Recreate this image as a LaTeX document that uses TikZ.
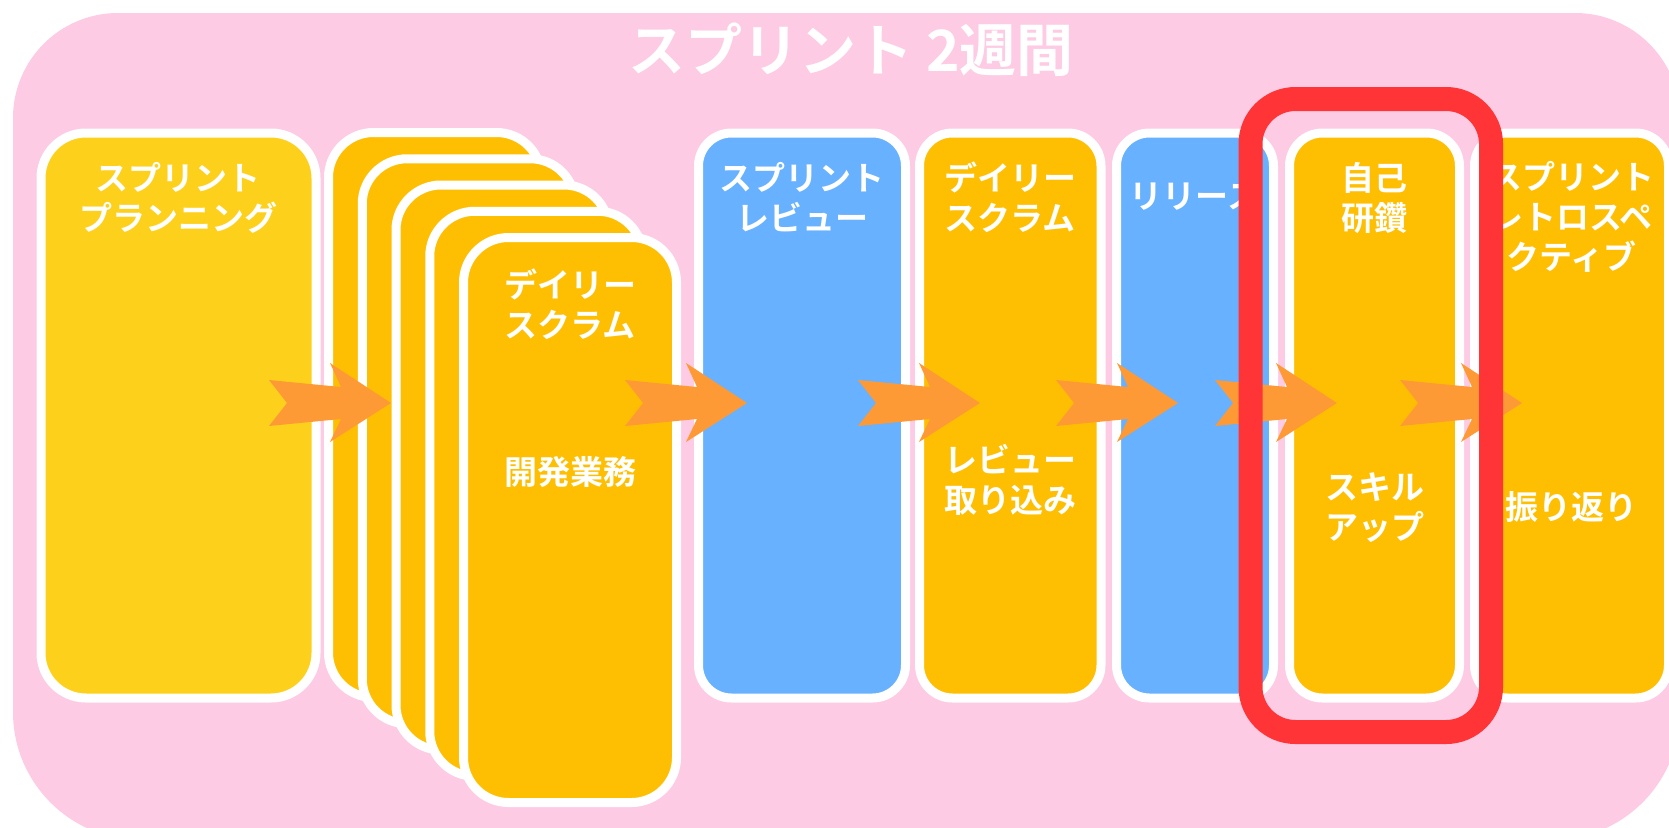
\documentclass[tikz,border=0pt]{standalone}
\usepackage{fontspec}
\newfontfamily\jpfont{Noto Sans CJK JP}[BoldFont={Noto Sans CJK JP Bold}]
\definecolor{bgpink}{HTML}{FDCBE4}
\definecolor{planyellow}{HTML}{FDD11B}
\definecolor{workorange}{HTML}{FEBF02}
\definecolor{revblue}{HTML}{67B1FE}
\definecolor{flow}{HTML}{FE9A35}
\definecolor{focusred}{HTML}{FE3436}
\begin{document}
\begin{tikzpicture}[x=1pt,y=-1pt,
  panel/.style={draw=white, line width=9pt, inner sep=0pt, outer sep=0pt, minimum height=565pt},
  widepanel/.style={panel, rounded corners=45pt},
  narrowpanel/.style={panel, rounded corners=33pt},
  lbl/.style={text=white, inner sep=0pt, align=center, font=\jpfont\bfseries\fontsize{33}{40}\selectfont},
  titlelbl/.style={text=white, inner sep=0pt, font=\jpfont\bfseries\fontsize{57}{60}\selectfont},
  focusbox/.style={draw=focusred, line width=24pt, rounded corners=45pt, inner sep=0pt, outer sep=0pt},
  pics/flowarrow/.style={code={\fill[flow] (0,-23) -- (72,-16) -- (61,-40) -- (122,0) -- (61,39) -- (72,16) -- (0,23) -- (18,0) -- cycle;}}
]
\useasboundingbox (0,0) rectangle (1669,827);
\fill[white] (0,0) rectangle (1669,827);
\clip (0,0) rectangle (1669,827);

% container (top corners and bottom corners have different radii)
\fill[bgpink, rounded corners=105pt] (13,13) rectangle (1680,600);
\fill[bgpink, rounded corners=128pt] (13,300) rectangle (1680,840);
\node[titlelbl] (title) at (851,50) {スプリント 2週間};

% panels
\node[widepanel, fill=planyellow, minimum width=275pt] (plan) at (178.5,415.5) {};
\node[widepanel, fill=workorange, minimum width=213pt] (card1) at (435,415) {};
\node[widepanel, fill=workorange, minimum width=213pt] (card2) at (468.75,441.25) {};
\node[widepanel, fill=workorange, minimum width=213pt] (card3) at (502.5,467.5) {};
\node[widepanel, fill=workorange, minimum width=213pt] (card4) at (536.25,493.75) {};
\node[widepanel, fill=workorange, minimum width=213pt] (card5) at (570,520) {};
\node[narrowpanel, fill=revblue, minimum width=207pt] (review) at (802,415.5) {};
\node[narrowpanel, fill=workorange, minimum width=181.5pt] (daily) at (1010.25,415.5) {};
\node[narrowpanel, fill=revblue, minimum width=157pt] (release) at (1195,415.5) {};
\node[narrowpanel, fill=workorange, minimum width=170pt] (study) at (1374.5,415.5) {};
\node[narrowpanel, fill=workorange, minimum width=194pt] (retro) at (1571.5,415.5) {};

% labels
\node[lbl] (planT) at (178,197.5) {スプリント\\プランニング};
\node[lbl] (card5T) at (570,304) {デイリー\\スクラム};
\node[lbl] (card5B) at (570,472) {開発業務};
\node[lbl] (reviewT) at (802,197.5) {スプリント\\レビュー};
\node[lbl] (dailyT) at (1010.25,197.5) {デイリー\\スクラム};
\node[lbl] (dailyB) at (1010.25,480) {レビュー\\取り込み};
\node[lbl] (releaseT) at (1195,197) {リリース};
\node[lbl] (studyT) at (1374.5,198) {自己\\研鑽};
\node[lbl] (studyB) at (1374.5,508) {スキル\\アップ};
\node[lbl] (retroT) at (1571.5,217) {スプリント\\レトロスペ\\クティブ};
\node[lbl] (retroB) at (1571.5,507) {振り返り};

% flow arrows
\coordinate (a1) at (269,403);
\coordinate (a2) at (625,403);
\coordinate (a3) at (858,403);
\coordinate (a4) at (1056,403);
\coordinate (a5) at (1215,403);
\coordinate (a6) at (1400,403);
\pic at (a1) {flowarrow};
\pic at (a2) {flowarrow};
\pic at (a3) {flowarrow};
\pic at (a4) {flowarrow};
\pic at (a5) {flowarrow};
\pic at (a6) {flowarrow};

% highlight
\node[focusbox, minimum width=240.5pt, minimum height=633pt] (focus) at (1370.75,415.5) {};
\end{tikzpicture}
\end{document}
